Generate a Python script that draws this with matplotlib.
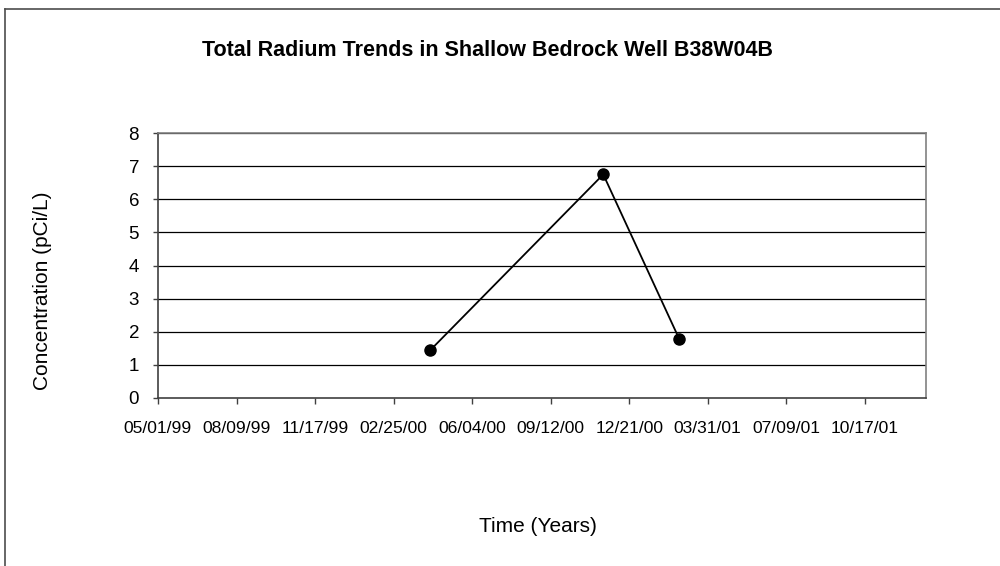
import matplotlib
matplotlib.use("Agg")
import matplotlib.pyplot as plt
from matplotlib.lines import Line2D
import datetime as dt

plt.rcParams['font.family'] = ['Liberation Sans', 'DejaVu Sans']

# Data
sample_dates = ["2000-04-12", "2000-11-18", "2001-02-23"]
radium_values = [1.45, 6.75, 1.77]
tick_labels = ["05/01/99", "08/09/99", "11/17/99", "02/25/00", "06/04/00",
               "09/12/00", "12/21/00", "03/31/01", "07/09/01", "10/17/01"]
y_ticks = [0, 1, 2, 3, 4, 5, 6, 7, 8]

dates = [dt.datetime.strptime(d, "%Y-%m-%d") for d in sample_dates]
tick_dates = [dt.datetime.strptime(t, "%m/%d/%y") for t in tick_labels]

fig = plt.figure(figsize=(10, 5.66), dpi=100)
ax = fig.add_axes([0.158, 1 - 398 / 566, 0.768, (398 - 133) / 566])

for y in y_ticks[1:]:
    ax.axhline(y, color="black", linewidth=0.9, zorder=1)

ax.plot(dates, radium_values, color="black", linewidth=1.3, marker="o",
        markersize=8, zorder=3)

ax.set_ylim(0, 8)
ax.set_yticks(y_ticks)
ax.set_xlim(dt.datetime(1999, 5, 1), dt.datetime(2002, 1, 3))
ax.set_xticks(tick_dates)
ax.set_xticklabels(tick_labels)
ax.tick_params(axis="x", labelsize=12.6, direction="out", length=4.3, width=1,
               color="#404040", pad=12.5)
ax.tick_params(axis="y", labelsize=13.5, direction="out", length=3.6, width=1,
               color="#404040", pad=10)

for side in ["left", "bottom"]:
    ax.spines[side].set_color("#404040")
    ax.spines[side].set_linewidth(1.2)
for side in ["right", "top"]:
    ax.spines[side].set_color("#808080")
    ax.spines[side].set_linewidth(1.2)

fig.text(0.4875, 1 - 50 / 566, "Total Radium Trends in Shallow Bedrock Well B38W04B",
         ha="center", va="center", fontsize=15.5, fontweight="bold")
fig.text(0.538, 1 - 527 / 566, "Time (Years)", ha="center", va="center", fontsize=15)
fig.text(0.043, 1 - 291 / 566, "Concentration (pCi/L)", ha="center", va="center",
         rotation=90, fontsize=15)

# Outer chart border (partially cropped)
ytop = 1 - 9 / 566
xl = 5 / 1000
fig.add_artist(Line2D([xl, xl], [0, ytop], color="#4d4d4d", linewidth=1.2))
fig.add_artist(Line2D([xl, 1], [ytop, ytop], color="#4d4d4d", linewidth=1.2))

fig.savefig("out.png", dpi=100)
